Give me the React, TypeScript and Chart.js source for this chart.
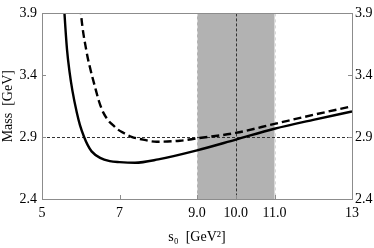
import React, { useEffect, useRef } from "react";
import { Chart, registerables } from "chart.js";

Chart.register(...registerables);

// s0 values [GeV^2] and mass [GeV] for the solid curve
const solidS = [5.5, 5.58, 5.645, 5.71, 5.787, 5.898, 5.98, 6.084, 6.18, 6.28, 6.5, 6.75, 7.0, 7.4, 8.0, 9.0, 10.0, 11.0, 12.0, 13.0];
const solidM = [4.35, 3.9, 3.61, 3.43, 3.272, 3.099, 2.997, 2.903, 2.835, 2.785, 2.732, 2.706, 2.698, 2.693, 2.72, 2.793, 2.88, 2.968, 3.04, 3.107];

// dashed curve
const dashedS = [5.93, 6.006, 6.15, 6.24, 6.39, 6.47, 6.58, 6.75, 6.84, 6.93, 7.1, 7.31, 7.53, 7.96, 8.56, 9.0, 10.0, 11.0, 12.0, 13.0];
const dashedM = [4.25, 3.9, 3.59, 3.46, 3.28, 3.19, 3.1, 3.02, 2.995, 2.968, 2.935, 2.903, 2.885, 2.863, 2.871, 2.89, 2.934, 3.007, 3.08, 3.149];

const xTicks = [5, 7, 9, 10, 11, 13];
const xTickLabels = ["5", "7", "9.0", "10.0", "11.0", "13"];
const yTicks = [2.4, 2.9, 3.4, 3.9];
const yTickLabels = ["2.4", "2.9", "3.4", "3.9"];

const X_MIN = 5, X_MAX = 13, Y_MIN = 2.4, Y_MAX = 3.9;
const bandRange = [9, 11];
const refX = 10;
const refY = 2.9;

const FONT = "'Liberation Serif', 'DejaVu Serif', serif";

const decorPlugin = {
  id: "decor",
  beforeDatasetsDraw(chart: any) {
    const { ctx, chartArea: a, scales } = chart;
    const x = scales.x, y = scales.y;
    ctx.save();
    const bx0 = x.getPixelForValue(bandRange[0]);
    const bx1 = x.getPixelForValue(bandRange[1]);
    ctx.fillStyle = "#b2b2b2";
    ctx.fillRect(bx0, a.top, bx1 - bx0, a.bottom - a.top);
    ctx.strokeStyle = "#d8d8d8";
    ctx.lineWidth = 1;
    ctx.setLineDash([3, 3]);
    for (const bx of [bx0, bx1]) {
      ctx.beginPath();
      ctx.moveTo(Math.round(bx) + 0.5, a.top);
      ctx.lineTo(Math.round(bx) + 0.5, a.bottom);
      ctx.stroke();
    }
    ctx.strokeStyle = "#333";
    ctx.setLineDash([3, 2]);
    const rx = Math.round(x.getPixelForValue(refX)) + 0.5;
    ctx.beginPath();
    ctx.moveTo(rx, a.top);
    ctx.lineTo(rx, a.bottom);
    ctx.stroke();
    const ry = Math.round(y.getPixelForValue(refY)) + 0.5;
    ctx.beginPath();
    ctx.moveTo(a.left, ry);
    ctx.lineTo(a.right, ry);
    ctx.stroke();
    ctx.restore();
  },
  afterDatasetsDraw(chart: any) {
    const { ctx, chartArea: a, scales } = chart;
    const x = scales.x, y = scales.y;
    ctx.save();
    ctx.strokeStyle = "#8c8c8c";
    ctx.lineWidth = 1;
    ctx.setLineDash([]);
    ctx.strokeRect(Math.round(a.left) + 0.5, Math.round(a.top) + 0.5, Math.round(a.right - a.left), Math.round(a.bottom - a.top));
    const L = 4;
    for (const v of xTicks) {
      const px = Math.round(x.getPixelForValue(v)) + 0.5;
      ctx.beginPath();
      ctx.moveTo(px, a.bottom);
      ctx.lineTo(px, a.bottom - L);
      ctx.stroke();
    }
    for (const v of yTicks) {
      const py = Math.round(y.getPixelForValue(v)) + 0.5;
      ctx.beginPath();
      ctx.moveTo(a.left, py);
      ctx.lineTo(a.left + L, py);
      ctx.moveTo(a.right, py);
      ctx.lineTo(a.right - L, py);
      ctx.stroke();
    }
    ctx.restore();
  },
};

export default function App() {
  const ref = useRef<HTMLCanvasElement>(null);
  useEffect(() => {
    document.body.style.margin = "0";
    const chart = new Chart(ref.current!, {
      type: "line",
      data: {
        datasets: [
          {
            data: solidS.map((s, i) => ({ x: s, y: solidM[i] })),
            borderColor: "#000",
            borderWidth: 2.4,
            pointRadius: 0,
            cubicInterpolationMode: "monotone",
            fill: false,
          },
          {
            data: dashedS.map((s, i) => ({ x: s, y: dashedM[i] })),
            borderColor: "#000",
            borderWidth: 2.4,
            borderDash: [8, 4],
            pointRadius: 0,
            cubicInterpolationMode: "monotone",
            fill: false,
          },
        ],
      },
      options: {
        responsive: false,
        animation: false,
        layout: { padding: { top: 8, left: 0, right: 0, bottom: 0 } },
        plugins: { legend: { display: false }, tooltip: { enabled: false } },
        scales: {
          x: {
            type: "linear",
            min: X_MIN,
            max: X_MAX,
            afterBuildTicks: (s: any) => { s.ticks = xTicks.map((v) => ({ value: v })); },
            afterFit: (s: any) => { s.height = 49; },
            ticks: {
              color: "#000",
              font: { family: FONT, size: 14 },
              padding: 6,
              maxRotation: 0,
              autoSkip: false,
              callback: (v: any) => xTickLabels[xTicks.indexOf(Number(v))] ?? "",
            },
            grid: { display: false, drawTicks: false },
            border: { display: false },
            title: {
              display: true,
              text: "s\u2080  [GeV\u00B2]",
              color: "#000",
              font: { family: FONT, size: 14 },
              padding: { top: 0, bottom: 2 },
            },
          },
          y: {
            type: "linear",
            position: "left",
            min: Y_MIN,
            max: Y_MAX,
            afterBuildTicks: (s: any) => { s.ticks = yTicks.map((v) => ({ value: v })); },
            afterFit: (s: any) => { s.width = 42; },
            ticks: {
              color: "#000",
              font: { family: FONT, size: 14 },
              padding: 5,
              callback: (v: any) => yTickLabels[yTicks.findIndex((t) => Math.abs(t - Number(v)) < 1e-6)] ?? "",
            },
            grid: { display: false, drawTicks: false },
            border: { display: false },
            title: {
              display: true,
              text: "Mass  [GeV]",
              color: "#000",
              font: { family: FONT, size: 14 },
              padding: { top: 0, bottom: 0 },
            },
          },
          y2: {
            type: "linear",
            position: "right",
            min: Y_MIN,
            max: Y_MAX,
            afterBuildTicks: (s: any) => { s.ticks = yTicks.map((v) => ({ value: v })); },
            afterFit: (s: any) => { s.width = 22; },
            ticks: {
              color: "#000",
              font: { family: FONT, size: 14 },
              padding: 3,
              callback: (v: any) => yTickLabels[yTicks.findIndex((t) => Math.abs(t - Number(v)) < 1e-6)] ?? "",
            },
            grid: { display: false, drawTicks: false },
            border: { display: false },
          },
        },
      } as any,
      plugins: [decorPlugin],
    });
    return () => chart.destroy();
  }, []);
  return (
    <div style={{ width: 374, height: 248 }}>
      <canvas ref={ref} width={374} height={248} style={{ display: "block" }} />
    </div>
  );
}
